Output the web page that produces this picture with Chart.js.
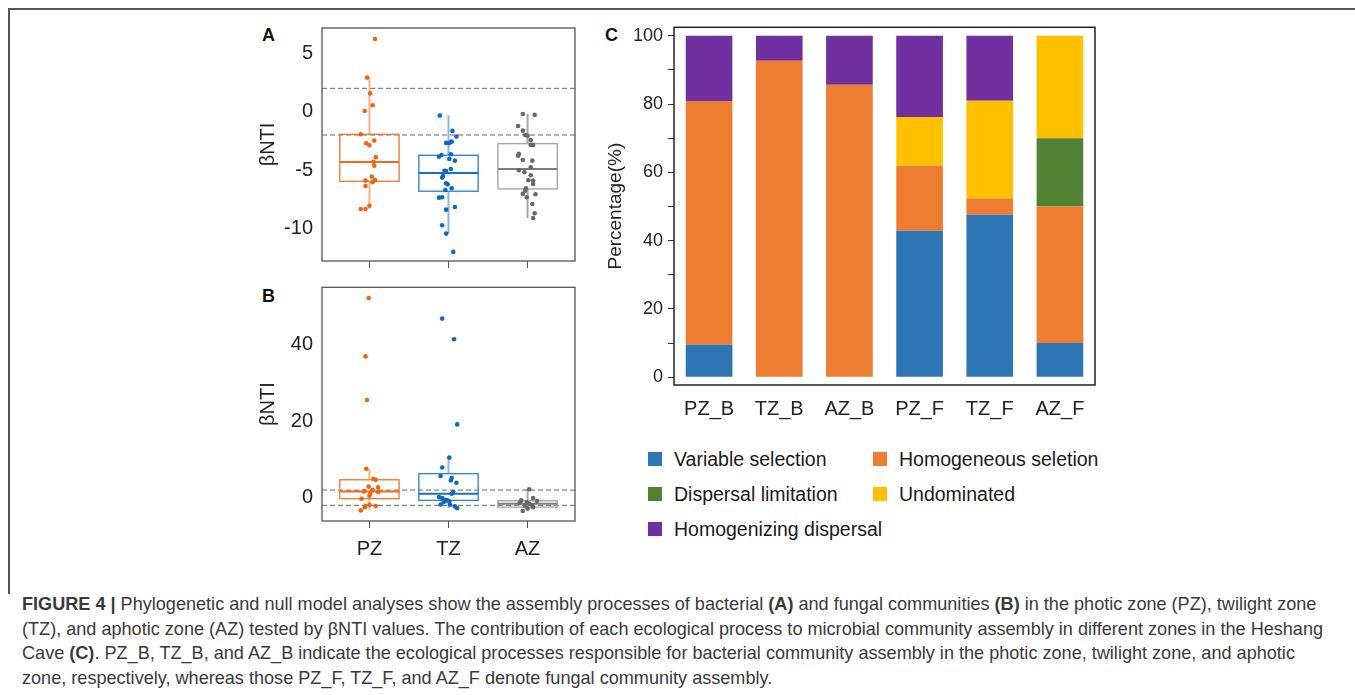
<!DOCTYPE html>
<html>
<head>
<meta charset="utf-8">
<script src="https://cdn.jsdelivr.net/npm/chart.js@4.4.0/dist/chart.umd.min.js"></script>
<style>
  body { margin: 0; background: #fff; width: 1355px; height: 695px; overflow: hidden; position: relative; font-family: "Liberation Sans", Arial, sans-serif; }
  canvas { position: absolute; }
  .frame-top { position: absolute; left: 8px; top: 8px; width: 1347px; height: 0; border-top: 2px solid #555; }
  .frame-left { position: absolute; left: 8px; top: 8px; width: 0; height: 586px; border-left: 2px solid #555; }
  .panel { position: absolute; font-weight: bold; font-size: 18px; color: #111; }
  #legend { position: absolute; left: 648px; top: 447px; display: grid; grid-template-columns: 225px auto; grid-auto-rows: 35px; font-size: 19.5px; color: #1a1a1a; white-space: nowrap; }
  #legend .item { display: flex; align-items: center; height: 24px; }
  #legend .sw { width: 14px; height: 14px; margin-right: 12px; flex: none; }
  #caption { position: absolute; left: 22px; top: 592px; font-size: 18.1px; line-height: 24.7px; color: #3a3a3a; white-space: nowrap; }
</style>
</head>
<body>
<div class="frame-top"></div>
<div class="frame-left"></div>
<div class="panel" style="left:262px;top:25px">A</div>
<div class="panel" style="left:262px;top:286px">B</div>
<div class="panel" style="left:605px;top:25px">C</div>
<canvas id="chartA" width="333" height="250" style="left:252px;top:20px"></canvas>
<canvas id="chartB" width="333" height="286" style="left:252px;top:280px"></canvas>
<canvas id="chartC" width="510" height="415" style="left:600px;top:15px"></canvas>
<div id="legend"></div>
<div id="caption"><b>FIGURE 4 |</b> Phylogenetic and null model analyses show the assembly processes of bacterial <b>(A)</b> and fungal communities <b>(B)</b> in the photic zone (PZ), twilight zone<br>(TZ), and aphotic zone (AZ) tested by βNTI values. The contribution of each ecological process to microbial community assembly in different zones in the Heshang<br>Cave <b>(C)</b>. PZ_B, TZ_B, and AZ_B indicate the ecological processes responsible for bacterial community assembly in the photic zone, twilight zone, and aphotic<br>zone, respectively, whereas those PZ_F, TZ_F, and AZ_F denote fungal community assembly.</div>
<script>
const zones = ['PZ', 'TZ', 'AZ'];

// panel A: bacterial βNTI, points and their horizontal jitter (category units)
const bacPZ = [6.23, 2.92, 1.57, 0.55, 0.06, -1.94, -2.71, -2.88, -2.48, -3.91, -4.29, -4.63, -5.57, -5.85, -6.05, -5.91, -6.37, -8.06, -8.34, -8.34];
const bacPZJit = [0.07, -0.03, 0.01, 0.04, -0.06, -0.11, -0.04, 0.0, 0.06, 0.08, 0.05, 0.06, 0.03, 0.07, 0.04, -0.05, -0.05, 0.0, -0.05, -0.11];
const bacTZ = [-0.34, -1.65, -2.14, -2.68, -2.68, -2.57, -3.86, -3.71, -3.65, -4.05, -4.2, -4.91, -5.06, -5.08, -5.51, -5.65, -6.14, -6.23, -6.57, -6.71, -7.37, -7.34, -8.17, -8.4, -9.74, -10.45, -12.02];
const bacTZJit = [-0.11, 0.05, 0.10, -0.03, 0.01, 0.04, -0.12, -0.09, 0.03, 0.01, 0.08, 0.03, -0.05, -0.03, -0.07, -0.08, -0.03, -0.01, 0.04, -0.04, -0.12, -0.08, 0.08, -0.03, -0.08, -0.03, 0.06];
const bacAZ = [-0.2, -0.28, -1.23, -1.63, -2.0, -2.06, -2.43, -2.85, -2.85, -3.62, -3.77, -4.14, -4.2, -5.02, -5.19, -4.77, -5.45, -5.88, -5.91, -6.2, -6.57, -6.77, -7.05, -7.34, -7.08, -7.91, -8.71, -9.11];
const bacAZJit = [-0.06, 0.09, -0.12, -0.06, -0.03, 0.0, 0.04, 0.04, 0.07, -0.11, -0.12, -0.06, 0.06, -0.11, -0.04, 0.04, 0.04, 0.01, 0.07, 0.07, -0.02, -0.03, -0.06, -0.01, 0.10, 0.06, 0.09, 0.07];
const bacLo = [-8.34, -10.45, -9.11];
const bacQ1 = [-5.97, -6.82, -6.62];
const bacMed = [-4.31, -5.25, -4.91];
const bacQ3 = [-1.94, -3.74, -2.74];
const bacHi = [2.92, -0.34, -0.2];

// panel B: fungal βNTI
const funPZ = [52.3, 37.0, 25.6, 7.6, 4.9, 4.7, 2.7, 2.9, 2.1, 1.65, 1.47, 0.94, 0.52, -0.26, -2.2, -1.84, -2.2, -3.33, -2.47];
const funPZJit = [-0.01, -0.05, -0.03, -0.04, 0.05, 0.08, 0.11, -0.01, 0.04, -0.07, 0.11, 0.01, 0.0, -0.1, -0.05, 0.0, 0.08, -0.11, -0.06];
const funTZ = [46.9, 41.5, 19.2, 10.5, 7.9, 5.7, 5.15, 4.5, 3.9, 1.5, 1.05, 0.16, -0.1, -0.52, -0.97, -0.7, -1.76, -1.84, -2.28, -2.73, -1.15];
const funTZJit = [-0.08, 0.07, 0.11, 0.01, -0.08, -0.1, 0.04, 0.03, 0.1, 0.06, 0.04, -0.12, -0.08, -0.04, 0.01, -0.02, -0.1, 0.02, 0.08, 0.11, -0.06];
const funAZ = [2.2, -0.1, -0.7, -0.88, -1.15, -1.4, -1.58, -2.1, -2.47, -2.8, -3.5, -2.0];
const funAZJit = [0.02, 0.07, -0.08, 0.12, -0.01, -0.1, 0.02, -0.03, 0.07, 0.0, -0.06, 0.06];
const funLo = [-3.33, -2.73, -3.5];
const funQ1 = [-0.26, -0.7, -2.47];
const funMed = [1.65, 1.05, -1.58];
const funQ3 = [4.7, 6.3, -0.8];
const funHi = [7.6, 10.5, 2.2];

const ticksA = [-10, -5, 0, 5];
const ticksB = [0, 20, 40];
const thresholds = [-2, 2];

// panel C: contribution of processes (%)
const groups = ['PZ_B', 'TZ_B', 'AZ_B', 'PZ_F', 'TZ_F', 'AZ_F'];
const variableSel = [9.5, 0, 0, 42.9, 47.6, 10];
const homogeneousSel = [71.4, 92.7, 85.7, 19.0, 4.8, 40];
const dispersalLim = [0, 0, 0, 0, 0, 20];
const undominated = [0, 0, 0, 14.3, 28.6, 30];
const homogenizingDisp = [19.1, 7.3, 14.3, 23.8, 19.0, 0];
const ticksC = [0, 10, 20, 30, 40, 50, 60, 70, 80, 90, 100];

const pointColors = ['#EE6410', '#0E68BE', '#686868'];
const boxColors = ['#F07E3A', '#3A86CE', '#A6A6A6'];
const medianColors = ['#EE6A1A', '#1C70C0', '#7C7C7C'];
const whiskerColors = ['rgba(240,126,58,0.6)', 'rgba(58,134,206,0.6)', 'rgba(130,130,130,0.7)'];

const boxPlugin = {
  id: 'boxes',
  beforeDatasetsDraw(chart, args, opts) {
    const ctx = chart.ctx, a = chart.chartArea;
    const xs = chart.scales.x, ys = chart.scales.y;
    ctx.save();
    // threshold lines
    ctx.strokeStyle = '#666';
    ctx.lineWidth = 1;
    ctx.setLineDash([5, 3]);
    thresholds.forEach(t => {
      const y = ys.getPixelForValue(t);
      ctx.beginPath(); ctx.moveTo(a.left, y); ctx.lineTo(a.right, y); ctx.stroke();
    });
    ctx.setLineDash([]);
    const s = opts.stats;
    for (let k = 0; k < 3; k++) {
      const x0 = xs.getPixelForValue(k + 1 - 0.375), x1 = xs.getPixelForValue(k + 1 + 0.375);
      const xc = xs.getPixelForValue(k + 1);
      const yq1 = ys.getPixelForValue(s.q1[k]), yq3 = ys.getPixelForValue(s.q3[k]);
      ctx.strokeStyle = whiskerColors[k];
      ctx.lineWidth = 2;
      ctx.beginPath();
      ctx.moveTo(xc, ys.getPixelForValue(s.hi[k])); ctx.lineTo(xc, yq3);
      ctx.moveTo(xc, yq1); ctx.lineTo(xc, ys.getPixelForValue(s.lo[k]));
      ctx.stroke();
      ctx.strokeStyle = boxColors[k];
      ctx.lineWidth = 1.4;
      ctx.strokeRect(x0, yq3, x1 - x0, yq1 - yq3);
      ctx.strokeStyle = medianColors[k];
      ctx.lineWidth = 2;
      const ym = ys.getPixelForValue(s.med[k]);
      ctx.beginPath(); ctx.moveTo(x0, ym); ctx.lineTo(x1, ym); ctx.stroke();
    }
    ctx.restore();
  }
};

const framePlugin = {
  id: 'frame',
  afterDraw(chart, args, opts) {
    const ctx = chart.ctx, a = chart.chartArea;
    ctx.save();
    ctx.strokeStyle = opts.color || '#555';
    ctx.lineWidth = opts.width || 1.3;
    ctx.strokeRect(a.left, a.top, a.right - a.left, a.bottom - a.top);
    ctx.restore();
  }
};

// keep tick labels from pushing the plot area inwards
function fitX(h) {
  return s => { s.height = h; s.paddingLeft = 0; s.paddingRight = 0; };
}
function fitY(w) {
  return s => { s.width = w; s.paddingTop = 0; s.paddingBottom = 0; };
}

function scatterSets(vals, jits) {
  return vals.map((v, k) => ({
    data: v.map((y, i) => ({ x: k + 1 + jits[k][i], y: y })),
    backgroundColor: pointColors[k],
    borderWidth: 0,
    pointRadius: 2.3
  }));
}

function boxChart(id, vals, jits, stats, yMin, yMax, yTicks, showLabels, axisH, padTop) {
  return new Chart(document.getElementById(id), {
    type: 'scatter',
    data: { datasets: scatterSets(vals, jits) },
    plugins: [boxPlugin, framePlugin],
    options: {
      responsive: false,
      animation: false,
      devicePixelRatio: 1,
      layout: { autoPadding: false, padding: { top: padTop, right: 10, left: 0, bottom: 0 } },
      plugins: {
        legend: { display: false },
        tooltip: { enabled: false },
        boxes: { stats: stats },
        frame: { color: '#555', width: 1.3 }
      },
      scales: {
        x: {
          type: 'linear', min: 0.4, max: 3.6,
          afterBuildTicks: s => { s.ticks = [1, 2, 3].map(v => ({ value: v })); },
          afterFit: fitX(axisH),
          border: { display: false },
          grid: { drawOnChartArea: false, drawTicks: true, tickLength: 7, color: '#555' },
          ticks: { display: showLabels, padding: 9, color: '#222', font: { size: 20, family: 'Liberation Sans' }, callback: v => zones[v - 1] }
        },
        y: {
          min: yMin, max: yMax,
          afterBuildTicks: s => { s.ticks = yTicks.map(v => ({ value: v })); },
          afterFit: fitY(70),
          border: { display: false },
          grid: { display: false, drawTicks: false },
          ticks: { padding: 9, color: '#222', font: { size: 20, family: 'Liberation Sans' } },
          title: { display: true, text: 'βNTI', color: '#222', font: { size: 20, family: 'Liberation Sans' } }
        }
      }
    }
  });
}

boxChart('chartA', [bacPZ, bacTZ, bacAZ], [bacPZJit, bacTZJit, bacAZJit],
  { lo: bacLo, q1: bacQ1, med: bacMed, q3: bacQ3, hi: bacHi }, -12.8, 7.17, ticksA, false, 9, 8);
boxChart('chartB', [funPZ, funTZ, funAZ], [funPZJit, funTZJit, funAZJit],
  { lo: funLo, q1: funQ1, med: funMed, q3: funQ3, hi: funHi }, -6.1, 55.1, ticksB, true, 45, 7.3);

const processLabels = ['Variable selection', 'Homogeneous seletion', 'Dispersal limitation', 'Undominated', 'Homogenizing dispersal'];
const processValues = [variableSel, homogeneousSel, dispersalLim, undominated, homogenizingDisp];
const processColors = ['#2E75B6', '#ED7D31', '#548235', '#FFC000', '#7030A0'];

new Chart(document.getElementById('chartC'), {
  type: 'bar',
  data: {
    labels: groups,
    datasets: processLabels.map((lab, i) => ({
      label: lab,
      data: processValues[i],
      backgroundColor: processColors[i],
      borderWidth: 0,
      barPercentage: 0.665,
      categoryPercentage: 1
    }))
  },
  plugins: [framePlugin],
  options: {
    responsive: false,
    animation: false,
    devicePixelRatio: 1,
    layout: { autoPadding: false, padding: { top: 12.3, right: 15, left: 0, bottom: 0 } },
    plugins: {
      legend: { display: false },
      tooltip: { enabled: false },
      frame: { color: '#222', width: 1.5 }
    },
    scales: {
      x: {
        stacked: true,
        afterFit: fitX(45),
        border: { display: false },
        grid: { display: false, drawTicks: false },
        ticks: { padding: 12, color: '#222', font: { size: 20, family: 'Liberation Sans' } }
      },
      y: {
        stacked: true, min: -2.3, max: 102.5,
        afterBuildTicks: s => { s.ticks = ticksC.map(v => ({ value: v })); },
        afterFit: fitY(74),
        border: { display: false },
        grid: { drawOnChartArea: false, drawTicks: true, tickLength: 6, color: '#333' },
        ticks: { padding: 5, color: '#222', font: { size: 18, family: 'Liberation Sans' }, callback: v => (v % 20 === 0 ? v : '') },
        title: { display: true, text: 'Percentage(%)', color: '#222', font: { size: 19, family: 'Liberation Sans' } }
      }
    }
  }
});

// legend built from the same series names and colours
const legend = document.getElementById('legend');
[0, 1, 2, 3, 4].forEach(i => {
  const item = document.createElement('div');
  item.className = 'item';
  item.innerHTML = '<span class="sw" style="background:' + processColors[i] + '"></span><span>' + processLabels[i] + '</span>';
  legend.appendChild(item);
});
</script>
</body>
</html>
